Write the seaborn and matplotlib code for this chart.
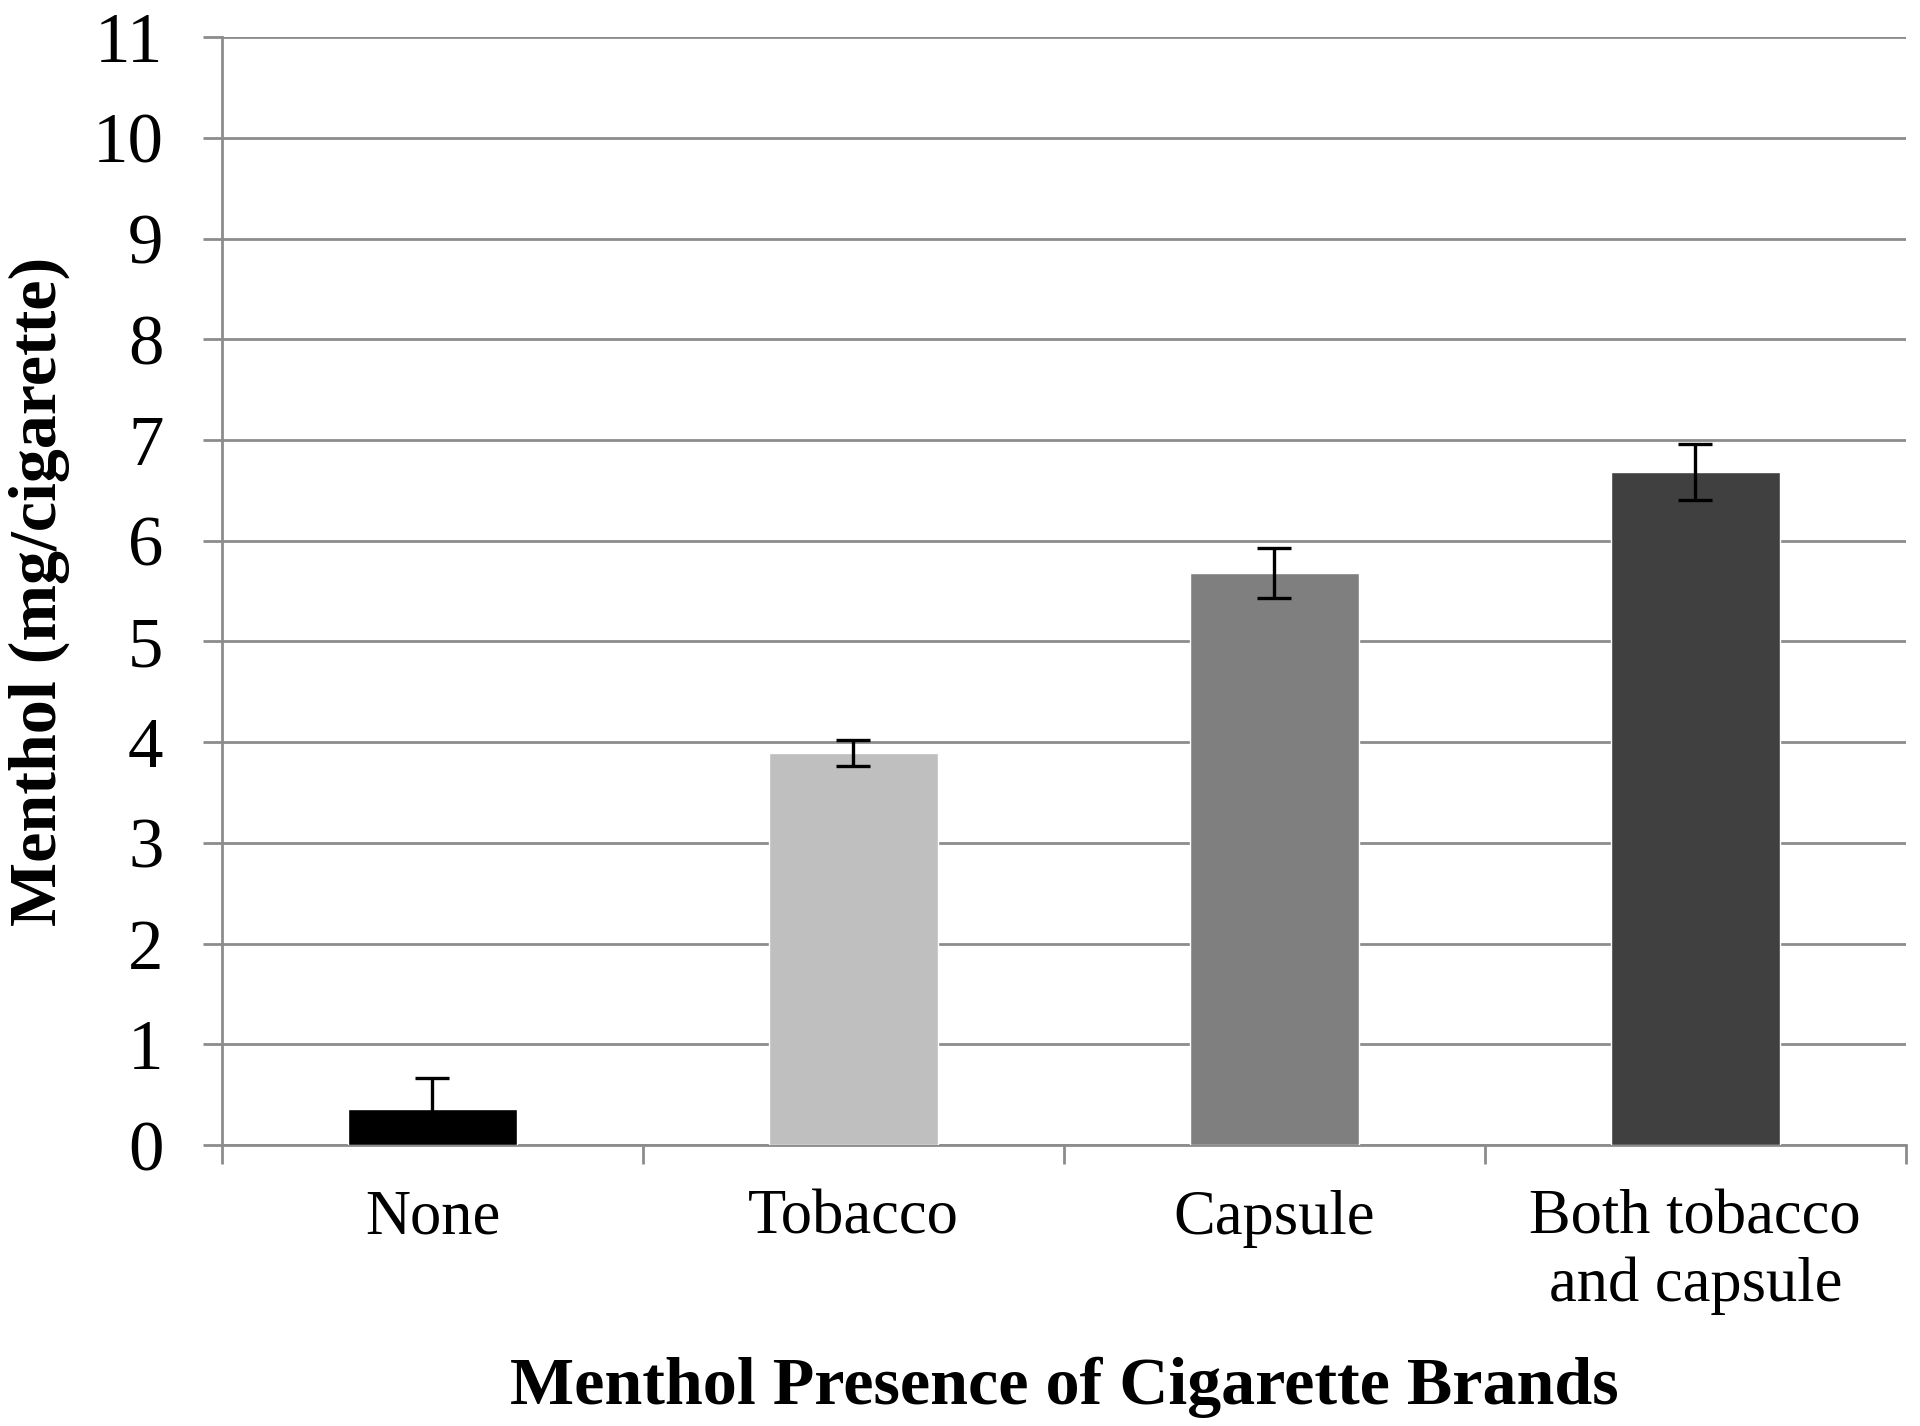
import matplotlib
matplotlib.use("Agg")
import matplotlib.pyplot as plt
import seaborn as sns
import pandas as pd

# Werte
categories = ["None", "Tobacco", "Capsule", "Both tobacco\nand capsule"]
menthol = [0.36, 3.89, 5.68, 6.68]
errors = [0.31, 0.13, 0.25, 0.28]
colors = ["#000000", "#bfbfbf", "#7f7f7f", "#404040"]

df = pd.DataFrame({"presence": categories, "menthol": menthol})

sns.set_style("white")
plt.rcParams["font.family"] = ["Liberation Serif", "DejaVu Serif"]
plt.rcParams["text.color"] = "black"
plt.rcParams["axes.labelcolor"] = "black"
plt.rcParams["xtick.labelcolor"] = "black"
plt.rcParams["ytick.labelcolor"] = "black"

fig = plt.figure(figsize=(19.2, 14.26), dpi=100)
ax = fig.add_axes([0.1156, 0.197, 0.877, 0.777])

sns.barplot(data=df, x="presence", y="menthol", hue="presence", palette=colors,
            legend=False, width=0.4, errorbar=None, ax=ax, zorder=3)
ax.errorbar(range(len(categories)), menthol, yerr=errors, fmt="none",
            ecolor="black", elinewidth=2.4, capsize=12.5, capthick=2.4, zorder=4)

ax.set_ylim(0, 11)
ax.set_yticks(range(0, 12))
ax.set_xlim(-0.5, 3.5)
ax.grid(axis="y", color="#8c8c8c", linewidth=2, zorder=0)
ax.set_axisbelow(True)

for s in ["top", "right"]:
    ax.spines[s].set_visible(False)
for s in ["left", "bottom"]:
    ax.spines[s].set_color("#8c8c8c")
    ax.spines[s].set_linewidth(2)

ax.tick_params(axis="y", which="major", length=14, width=2, color="#8c8c8c",
               labelsize=51, pad=28, left=True, direction="out")
ax.tick_params(axis="x", which="major", length=0, labelsize=45, pad=32)
ax.set_xticks([-0.5, 0.5, 1.5, 2.5, 3.5], minor=True)
ax.tick_params(axis="x", which="minor", length=14, width=2, color="#8c8c8c",
               bottom=True, direction="out")

ax.set_xlabel("Menthol Presence of Cigarette Brands", fontsize=49,
              fontweight="bold", labelpad=30)
ax.set_ylabel("Menthol (mg/cigarette)", fontsize=49, fontweight="bold", labelpad=16)

fig.savefig("out.png", dpi=100)
